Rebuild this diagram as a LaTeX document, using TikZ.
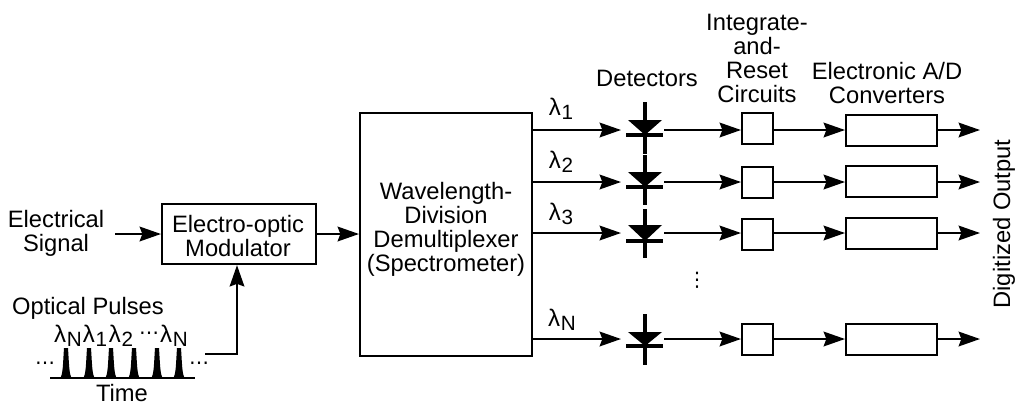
\documentclass[tikz,border=0pt]{standalone}
\usepackage{fontspec}
\setmainfont{Liberation Sans}
\newfontfamily\dvfont{DejaVu Sans}
\usetikzlibrary{arrows.meta}
\tikzset{
 x=0.75pt,y=-0.75pt,
 lab/.style={font=\fontsize{17.8}{18}\selectfont,align=center,inner sep=0pt},
 sym/.style={font=\fontsize{18}{18}\selectfont,inner sep=0pt},
 dotsn/.style={font=\dvfont\fontsize{15}{15}\selectfont,inner sep=0pt},
 boxn/.style={draw,line width=1.6pt,inner sep=0pt,anchor=north west},
 flow/.style={line width=1.6pt,-{Stealth[length=16pt,width=11pt,inset=2pt]}},
 diodebar/.style={line width=3.6pt},
}
\newcommand{\lamsub}[1]{λ\kern0.5pt\raisebox{-3pt}{\fontsize{15.5}{15.5}\selectfont #1}}
\begin{document}
\begin{tikzpicture}
\useasboundingbox (0,0) rectangle (1017,405);
\path[fill=white] (0,0) rectangle (1017,405);
% boxes
\node[boxn,minimum width=115.5pt,minimum height=45pt] (mod) at (161,203) {};
\node[lab] (modt) at (238,236) {Electro-optic\\Modulator};
\node[boxn,minimum width=129pt,minimum height=182pt] (wdm) at (359,112) {};
\node[lab] (wdmt) at (446,229) {Wavelength-\\Division\\Demultiplexer\\(Spectrometer)};
\node[lab] (es) at (56,233) {Electrical\\Signal};
\coordinate (esr) at (115,234);
\draw[flow] (esr) -- (mod.west |- esr);
\draw[flow] (mod.east |- esr) -- (wdm.west |- esr);
% pulses
\node[lab] (op) at (88,308) {Optical Pulses};
\node[sym] (l0) at (68,336) {\lamsub{N}};
\node[sym] (l1) at (95,336) {\lamsub{1}};
\node[sym] (l2) at (121,336) {\lamsub{2}};
\node[dotsn] (ld) at (149,336) {⋯};
\node[sym] (l3) at (174,336) {\lamsub{N}};
\node[dotsn] (dl) at (45,366) {⋯};
\node[dotsn] (dr) at (199,366) {⋯};
\coordinate (axl) at (50,378);
\coordinate (axr) at (195,378);
\draw[line width=1.8pt] (axl) -- (axr);
\foreach \px in {66,89,111,134,157,179}{
 \fill (\px-6,378) .. controls (\px-3,376) and (\px-3,362) .. (\px-2,348) -- (\px+2,348) .. controls (\px+3,362) and (\px+3,376) .. (\px+6,378) -- cycle;
}
\node[lab] (time) at (122,393) {Time};
\coordinate (pe) at (205,354);
\draw[flow] (pe) -| (237,0 |- mod.south);
% rows
\foreach \r/\y/\ty/\ay/\tt/\bb/\vt/\vb in {a/130/112/114/120/135/102/154,b/182/166/165/172/187/155/205,c/233/218/217/225/241/209/258,d/339/323/323/332/346/314/365}{
 \coordinate (w\r) at (531,\y);
 \coordinate (ind\r) at (621,\y);
 \coordinate (outd\r) at (664,\y);
 \draw[flow] (w\r) -- (ind\r);
 \draw[line width=3.6pt] (645,\vt) -- (645,\vb);
 \fill (628,\tt) -- (662,\tt) -- (645,\bb) -- cycle;
 \draw[diodebar] (626,\bb) -- (663,\bb);
 \node[boxn,minimum width=23.25pt,minimum height=23.25pt] (ir\r) at (741,\ty) {};
 \node[boxn,minimum width=68.25pt,minimum height=23pt] (ad\r) at (845,\ay) {};
 \draw[flow] (outd\r) -- (ir\r.west |- outd\r);
 \draw[flow] (ir\r.east |- outd\r) -- (ad\r.west |- outd\r);
 \coordinate (out\r) at (980,\y);
 \draw[flow] (ad\r.east |- outd\r) -- (out\r);
}
\node[sym] (la) at (561,109) {\lamsub{1}};
\node[sym] (lb) at (561,162) {\lamsub{2}};
\node[sym] (lc) at (561,214) {\lamsub{3}};
\node[sym] (ld2) at (562,320) {\lamsub{N}};
\node[dotsn] (vd) at (697,280) {⋮};
\node[lab] (det) at (647,78) {Detectors};
\node[lab] (irt) at (757,58) {Integrate-\\and-\\Reset\\Circuits};
\node[lab] (adt) at (887,83) {Electronic A/D\\Converters};
\node[lab,rotate=90] (dout) at (1004,224) {Digitized Output};
\end{tikzpicture}
\end{document}
